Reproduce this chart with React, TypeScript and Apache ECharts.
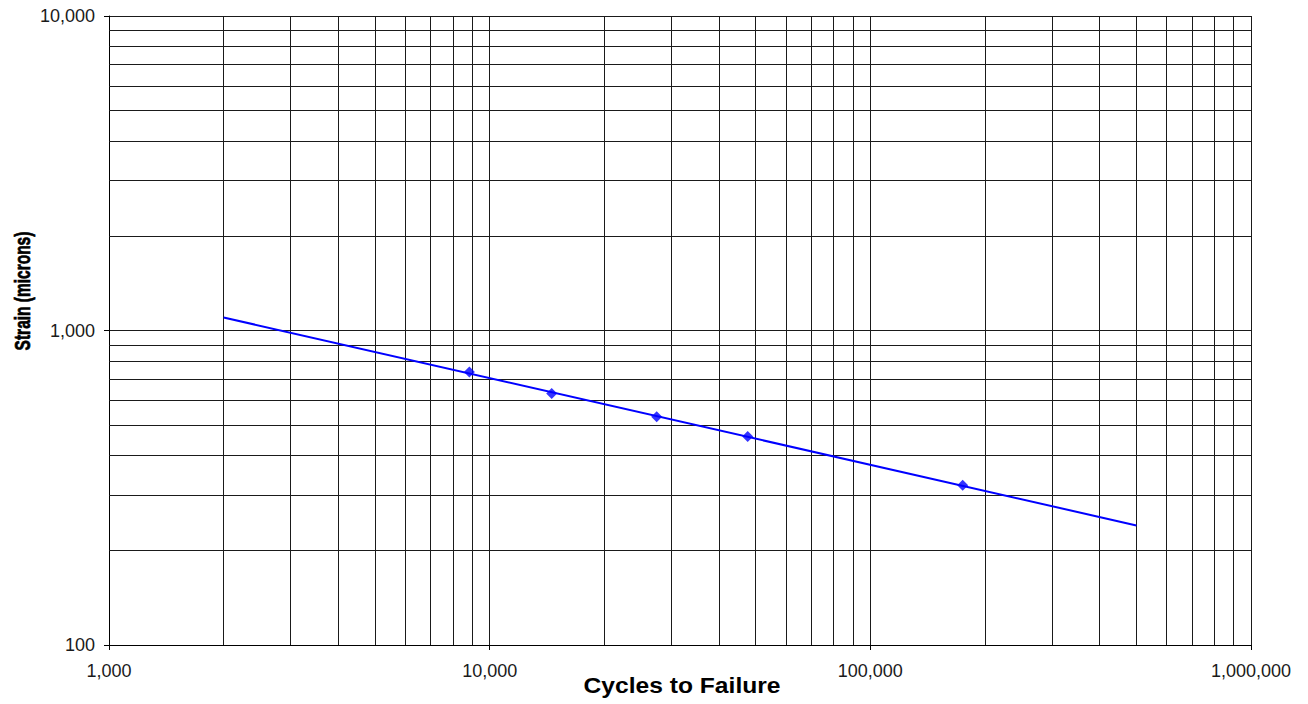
import React, { useEffect, useRef } from "react";
import * as echarts from "echarts";

// Measured data points (cycles to failure, strain in microns)
const cycles = [8844, 14550, 27460, 47620, 174800];
const strain = [738, 631, 532, 460, 322];

// Power-law trend line end points
const trendCycles = [2000, 500000];
const trendStrain = [1100, 240];

// Minor grid positions
const xMinor = [
  2000, 3000, 4000, 5000, 6000, 7000, 8000, 9000,
  20000, 30000, 40000, 50000, 60000, 70000, 80000, 90000,
  200000, 300000, 400000, 500000, 600000, 700000, 800000, 900000,
];
const yMinor = [
  200, 300, 400, 500, 600, 700, 800, 900,
  2000, 3000, 4000, 5000, 6000, 7000, 8000, 9000,
];

const xTitle = "Cycles to Failure";
const yTitle = "Strain (microns)";

const fmt = (v: number) => Math.round(v).toLocaleString("en-US");
const FONT = "Liberation Sans, Arial, sans-serif";

export default function App() {
  const ref = useRef<HTMLDivElement>(null);
  useEffect(() => {
    if (!ref.current) return;
    const chart = echarts.init(ref.current, undefined, { renderer: "svg" });
    const gridColor = "#1a1a1a";
    chart.setOption({
      animation: false,
      backgroundColor: "#ffffff",
      textStyle: { fontFamily: FONT },
      grid: {
        left: 109,
        top: 16,
        right: 57,
        bottom: 59,
        containLabel: false,
        outerBoundsMode: "none",
      },
      xAxis: {
        type: "log",
        logBase: 10,
        min: 1000,
        max: 1000000,
        axisLine: { show: true, onZero: false, lineStyle: { color: "#000", width: 1 } },
        axisTick: { show: true, length: 5, lineStyle: { color: "#000" } },
        axisLabel: { fontSize: 18, color: "#1a1a1a", margin: 17, formatter: fmt },
        splitLine: { show: true, lineStyle: { color: gridColor, width: 1 } },
        minorTick: { show: false },
      },
      yAxis: {
        type: "log",
        logBase: 10,
        min: 100,
        max: 10000,
        axisLine: { show: true, onZero: false, lineStyle: { color: "#000", width: 1 } },
        axisTick: { show: true, length: 5, lineStyle: { color: "#000" } },
        axisLabel: { fontSize: 18, color: "#1a1a1a", margin: 14, formatter: fmt },
        splitLine: { show: true, lineStyle: { color: gridColor, width: 1 } },
      },
      graphic: [
        {
          type: "text",
          x: 682,
          y: 685,
          scaleX: 1.12,
          style: {
            text: xTitle,
            fontSize: 22,
            fontWeight: "bold",
            fontFamily: FONT,
            fill: "#000",
            textAlign: "center",
            textVerticalAlign: "middle",
          },
        },
        {
          type: "text",
          x: 23,
          y: 291,
          rotation: Math.PI / 2,
          scaleY: 1.4,
          style: {
            text: yTitle,
            fontSize: 15.5,
            fontWeight: "bold",
            fontFamily: FONT,
            fill: "#000",
            stroke: "#000",
            lineWidth: 0.5,
            textAlign: "center",
            textVerticalAlign: "middle",
          },
        },
      ],
      series: [
        {
          type: "line",
          data: [],
          silent: true,
          markLine: {
            silent: true,
            symbol: ["none", "none"],
            label: { show: false },
            lineStyle: { color: gridColor, width: 1, type: "solid" },
            data: [
              ...xMinor.map((v) => ({ xAxis: v })),
              ...yMinor.map((v) => ({ yAxis: v })),
            ],
          },
        },
        {
          type: "line",
          data: trendCycles.map((c, i) => [c, trendStrain[i]]),
          showSymbol: false,
          symbol: "none",
          lineStyle: { color: "#0000ff", width: 2 },
          z: 5,
        },
        {
          type: "scatter",
          data: cycles.map((c, i) => [c, strain[i]]),
          symbol: "diamond",
          symbolSize: 11,
          itemStyle: { color: "#0000ff" },
          z: 6,
        },
      ],
    });
    return () => chart.dispose();
  }, []);
  return (
    <div
      ref={ref}
      style={{ position: "fixed", left: 0, top: 0, width: 1308, height: 704, background: "#fff" }}
    />
  );
}
